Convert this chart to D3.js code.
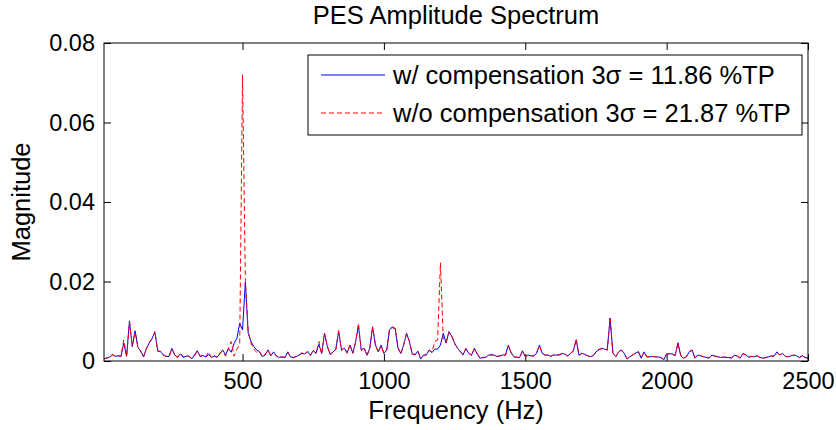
<!DOCTYPE html>
<html>
<head>
<meta charset="utf-8">
<script src="https://cdn.jsdelivr.net/npm/d3@7"></script>
<style>
body { margin: 0; background: #fff; }
text { font-family: "Liberation Sans", Arial, sans-serif; fill: #000; }
</style>
</head>
<body>
<svg id="chart" width="836" height="430"></svg>
<script>
// frequency bins (Hz)
var freq = [
	10,20,30,40,50,60,70,80,90,100,
	110,120,130,140,150,160,170,180,190,200,
	210,220,230,240,250,260,270,280,290,300,
	310,320,330,340,350,360,370,380,390,400,
	410,420,430,440,450,460,470,480,490,500,
	510,520,530,540,550,560,570,580,590,600,
	610,620,630,640,650,660,670,680,690,700,
	710,720,730,740,750,760,770,780,790,800,
	810,820,830,840,850,860,870,880,890,900,
	910,920,930,940,950,960,970,980,990,1000,
	1010,1020,1030,1040,1050,1060,1070,1080,1090,1100,
	1110,1120,1130,1140,1150,1160,1170,1180,1190,1200,
	1210,1220,1230,1240,1250,1260,1270,1280,1290,1300,
	1310,1320,1330,1340,1350,1360,1370,1380,1390,1400,
	1410,1420,1430,1440,1450,1460,1470,1480,1490,1500,
	1510,1520,1530,1540,1550,1560,1570,1580,1590,1600,
	1610,1620,1630,1640,1650,1660,1670,1680,1690,1700,
	1710,1720,1730,1740,1750,1760,1770,1780,1790,1800,
	1810,1820,1830,1840,1850,1860,1870,1880,1890,1900,
	1910,1920,1930,1940,1950,1960,1970,1980,1990,2000,
	2010,2020,2030,2040,2050,2060,2070,2080,2090,2100,
	2110,2120,2130,2140,2150,2160,2170,2180,2190,2200,
	2210,2220,2230,2240,2250,2260,2270,2280,2290,2300,
	2310,2320,2330,2340,2350,2360,2370,2380,2390,2400,
	2410,2420,2430,2440,2450,2460,2470,2480,2490,2500
];

// w/ compensation
var magWith = [
	.0006,.0007,.0010,.0015,.0012,.0013,.0011,.0045,.0012,.0101,
	.0036,.0076,.0034,.0025,.0010,.0032,.0045,.0057,.0072,.0026,
	.0023,.0016,.0011,.0012,.0032,.0015,.0010,.0018,.0009,.0012,
	.0013,.0005,.0015,.0026,.0011,.0014,.0010,.0016,.0009,.0012,
	.0010,.0018,.0028,.0015,.0032,.0022,.0044,.0057,.0095,.0078,
	.0199,.0070,.0049,.0036,.0028,.0023,.0011,.0015,.0028,.0013,
	.0023,.0012,.0009,.0011,.0008,.0023,.0010,.0009,.0011,.0015,
	.0019,.0018,.0023,.0015,.0026,.0020,.0042,.0019,.0070,.0036,
	.0017,.0022,.0030,.0074,.0028,.0032,.0021,.0040,.0020,.0049,
	.0088,.0028,.0032,.0015,.0032,.0086,.0040,.0023,.0040,.0019,
	.0028,.0078,.0086,.0082,.0032,.0019,.0040,.0070,.0049,.0019,
	.0015,.0025,.0005,.0015,.0015,.0028,.0021,.0030,.0030,.0040,
	.0070,.0045,.0074,.0062,.0045,.0032,.0025,.0015,.0032,.0019,
	.0015,.0032,.0017,.0007,.0009,.0009,.0015,.0015,.0015,.0011,
	.0013,.0015,.0015,.0040,.0020,.0011,.0009,.0009,.0026,.0011,
	.0015,.0013,.0013,.0019,.0040,.0019,.0015,.0015,.0012,.0015,
	.0015,.0015,.0019,.0017,.0013,.0019,.0026,.0053,.0015,.0019,
	.0017,.0013,.0011,.0013,.0023,.0028,.0032,.0030,.0028,.0108,
	.0020,.0011,.0023,.0028,.0019,.0005,.0011,.0015,.0020,.0023,
	.0007,.0023,.0010,.0011,.0011,.0011,.0010,.0009,.0003,.0018,
	.0018,.0018,.0013,.0046,.0013,.0007,.0011,.0023,.0028,.0007,
	.0015,.0013,.0011,.0009,.0007,.0015,.0012,.0011,.0009,.0010,
	.0009,.0009,.0007,.0015,.0012,.0007,.0019,.0015,.0010,.0011,
	.0011,.0013,.0009,.0007,.0009,.0010,.0013,.0012,.0023,.0015,
	.0019,.0011,.0011,.0013,.0015,.0013,.0009,.0013,.0009,.0007
];

// w/o compensation
var magWithout = [
	.0005,.0008,.0009,.0017,.0011,.0014,.0012,.0053,.0010,.0098,
	.0038,.0073,.0036,.0023,.0012,.0030,.0047,.0055,.0075,.0024,
	.0025,.0014,.0012,.0010,.0030,.0017,.0008,.0019,.0011,.0010,
	.0012,.0007,.0013,.0024,.0013,.0012,.0011,.0023,.0008,.0014,
	.0009,.0020,.0026,.0012,.0030,.0049,.0012,.0030,.0040,.0720,
	.0200,.0075,.0045,.0030,.0022,.0025,.0010,.0017,.0026,.0015,
	.0021,.0013,.0010,.0009,.0010,.0021,.0011,.0008,.0012,.0014,
	.0021,.0016,.0025,.0013,.0028,.0018,.0049,.0017,.0068,.0038,
	.0015,.0024,.0028,.0078,.0026,.0034,.0019,.0042,.0018,.0047,
	.0095,.0026,.0034,.0013,.0030,.0084,.0042,.0021,.0038,.0021,
	.0026,.0082,.0084,.0080,.0034,.0017,.0042,.0068,.0051,.0017,
	.0017,.0023,.0007,.0013,.0017,.0026,.0023,.0049,.0053,.0247,
	.0055,.0047,.0072,.0064,.0043,.0034,.0023,.0017,.0030,.0021,
	.0013,.0030,.0019,.0008,.0008,.0010,.0013,.0017,.0014,.0012,
	.0012,.0017,.0014,.0038,.0022,.0010,.0010,.0008,.0024,.0012,
	.0014,.0014,.0012,.0021,.0038,.0020,.0014,.0016,.0011,.0016,
	.0014,.0016,.0018,.0018,.0012,.0020,.0024,.0055,.0014,.0020,
	.0016,.0014,.0010,.0014,.0021,.0030,.0030,.0031,.0027,.0105,
	.0021,.0010,.0024,.0026,.0020,.0006,.0010,.0016,.0019,.0024,
	.0008,.0021,.0011,.0010,.0012,.0010,.0011,.0008,.0004,.0017,
	.0019,.0017,.0014,.0044,.0014,.0008,.0010,.0024,.0026,.0008,
	.0014,.0014,.0010,.0010,.0008,.0014,.0013,.0010,.0010,.0009,
	.0010,.0008,.0008,.0014,.0013,.0008,.0018,.0016,.0009,.0012,
	.0010,.0014,.0008,.0008,.0008,.0011,.0012,.0013,.0021,.0016,
	.0018,.0012,.0010,.0014,.0014,.0014,.0008,.0014,.0008,.0008
];

var xTicks = [500, 1000, 1500, 2000, 2500];
var yTicks = [0, 0.02, 0.04, 0.06, 0.08];
var legendLabels = ['w/ compensation 3\u03c3 = 11.86 %TP', 'w/o compensation 3\u03c3 = 21.87 %TP'];

var m = {left: 104, right: 28, top: 43, bottom: 69};
var W = 836, H = 430;
var w = W - m.left - m.right, h = H - m.top - m.bottom;
var tickFont = '23.5px', labelFont = '25.5px';

var svg = d3.select('#chart');
var g = svg.append('g').attr('transform', 'translate(' + m.left + ',' + m.top + ')');

var x = d3.scaleLinear().domain([10, 2500]).range([0, w]);
var y = d3.scaleLinear().domain([0, 0.08]).range([h, 0]);

var fmtY = function(d) { return d === 0 ? '0' : d3.format('.2f')(d); };

g.append('rect').attr('width', w).attr('height', h).attr('fill', '#fff');

// axes, ticks pointing inward like matlab
var ax = [
	{a: d3.axisBottom(x).tickValues(xTicks).tickSizeInner(-7).tickSizeOuter(0).tickPadding(11).tickFormat(d3.format('d')), t: 'translate(0,' + h + ')'},
	{a: d3.axisTop(x).tickValues(xTicks).tickSizeInner(-7).tickSizeOuter(0).tickFormat(''), t: null},
	{a: d3.axisLeft(y).tickValues(yTicks).tickSizeInner(-7).tickSizeOuter(0).tickPadding(9).tickFormat(fmtY), t: null},
	{a: d3.axisRight(y).tickValues(yTicks).tickSizeInner(-7).tickSizeOuter(0).tickFormat(''), t: 'translate(' + w + ',0)'}
];
ax.forEach(function(o) {
	var s = g.append('g').call(o.a);
	if(o.t) s.attr('transform', o.t);
	s.select('.domain').remove();
	s.selectAll('line').attr('stroke', '#000');
	s.selectAll('text').style('font-size', tickFont).attr('fill', '#000');
});

var lineW = d3.line().x(function(d, i) { return x(freq[i]); }).y(function(d) { return y(d); });

g.append('path')
	.datum(magWith)
	.attr('d', lineW)
	.attr('fill', 'none')
	.attr('stroke', '#0000ff')
	.attr('stroke-width', 1);

g.append('path')
	.datum(magWithout)
	.attr('d', lineW)
	.attr('fill', 'none')
	.attr('stroke', '#ff0000')
	.attr('stroke-width', 1)
	.attr('stroke-dasharray', '5,3');

g.append('rect')
	.attr('width', w).attr('height', h)
	.attr('fill', 'none').attr('stroke', '#000').attr('stroke-width', 1);

// legend
var lg = svg.append('g').attr('transform', 'translate(308,55)');
lg.append('rect').attr('width', 494).attr('height', 80)
	.attr('fill', '#fff').attr('stroke', '#000').attr('stroke-width', 1);
var colors = ['#0000ff', '#ff0000'];
var dashes = [null, '5,3'];
legendLabels.forEach(function(l, i) {
	var yy = 20 + i * 38;
	lg.append('line').attr('x1', 13).attr('x2', 77).attr('y1', yy).attr('y2', yy)
		.attr('stroke', colors[i]).attr('stroke-dasharray', dashes[i]);
	lg.append('text').attr('x', 85).attr('y', yy).attr('dy', '0.35em')
		.style('font-size', labelFont).text(l);
});

svg.append('text').attr('x', m.left + w / 2).attr('y', 24)
	.attr('text-anchor', 'middle').style('font-size', labelFont).text('PES Amplitude Spectrum');
svg.append('text').attr('x', m.left + w / 2).attr('y', 419)
	.attr('text-anchor', 'middle').style('font-size', labelFont).text('Frequency (Hz)');
svg.append('text').attr('transform', 'translate(30,' + (m.top + h / 2) + ') rotate(-90)')
	.attr('text-anchor', 'middle').style('font-size', labelFont).text('Magnitude');
</script>
</body>
</html>
